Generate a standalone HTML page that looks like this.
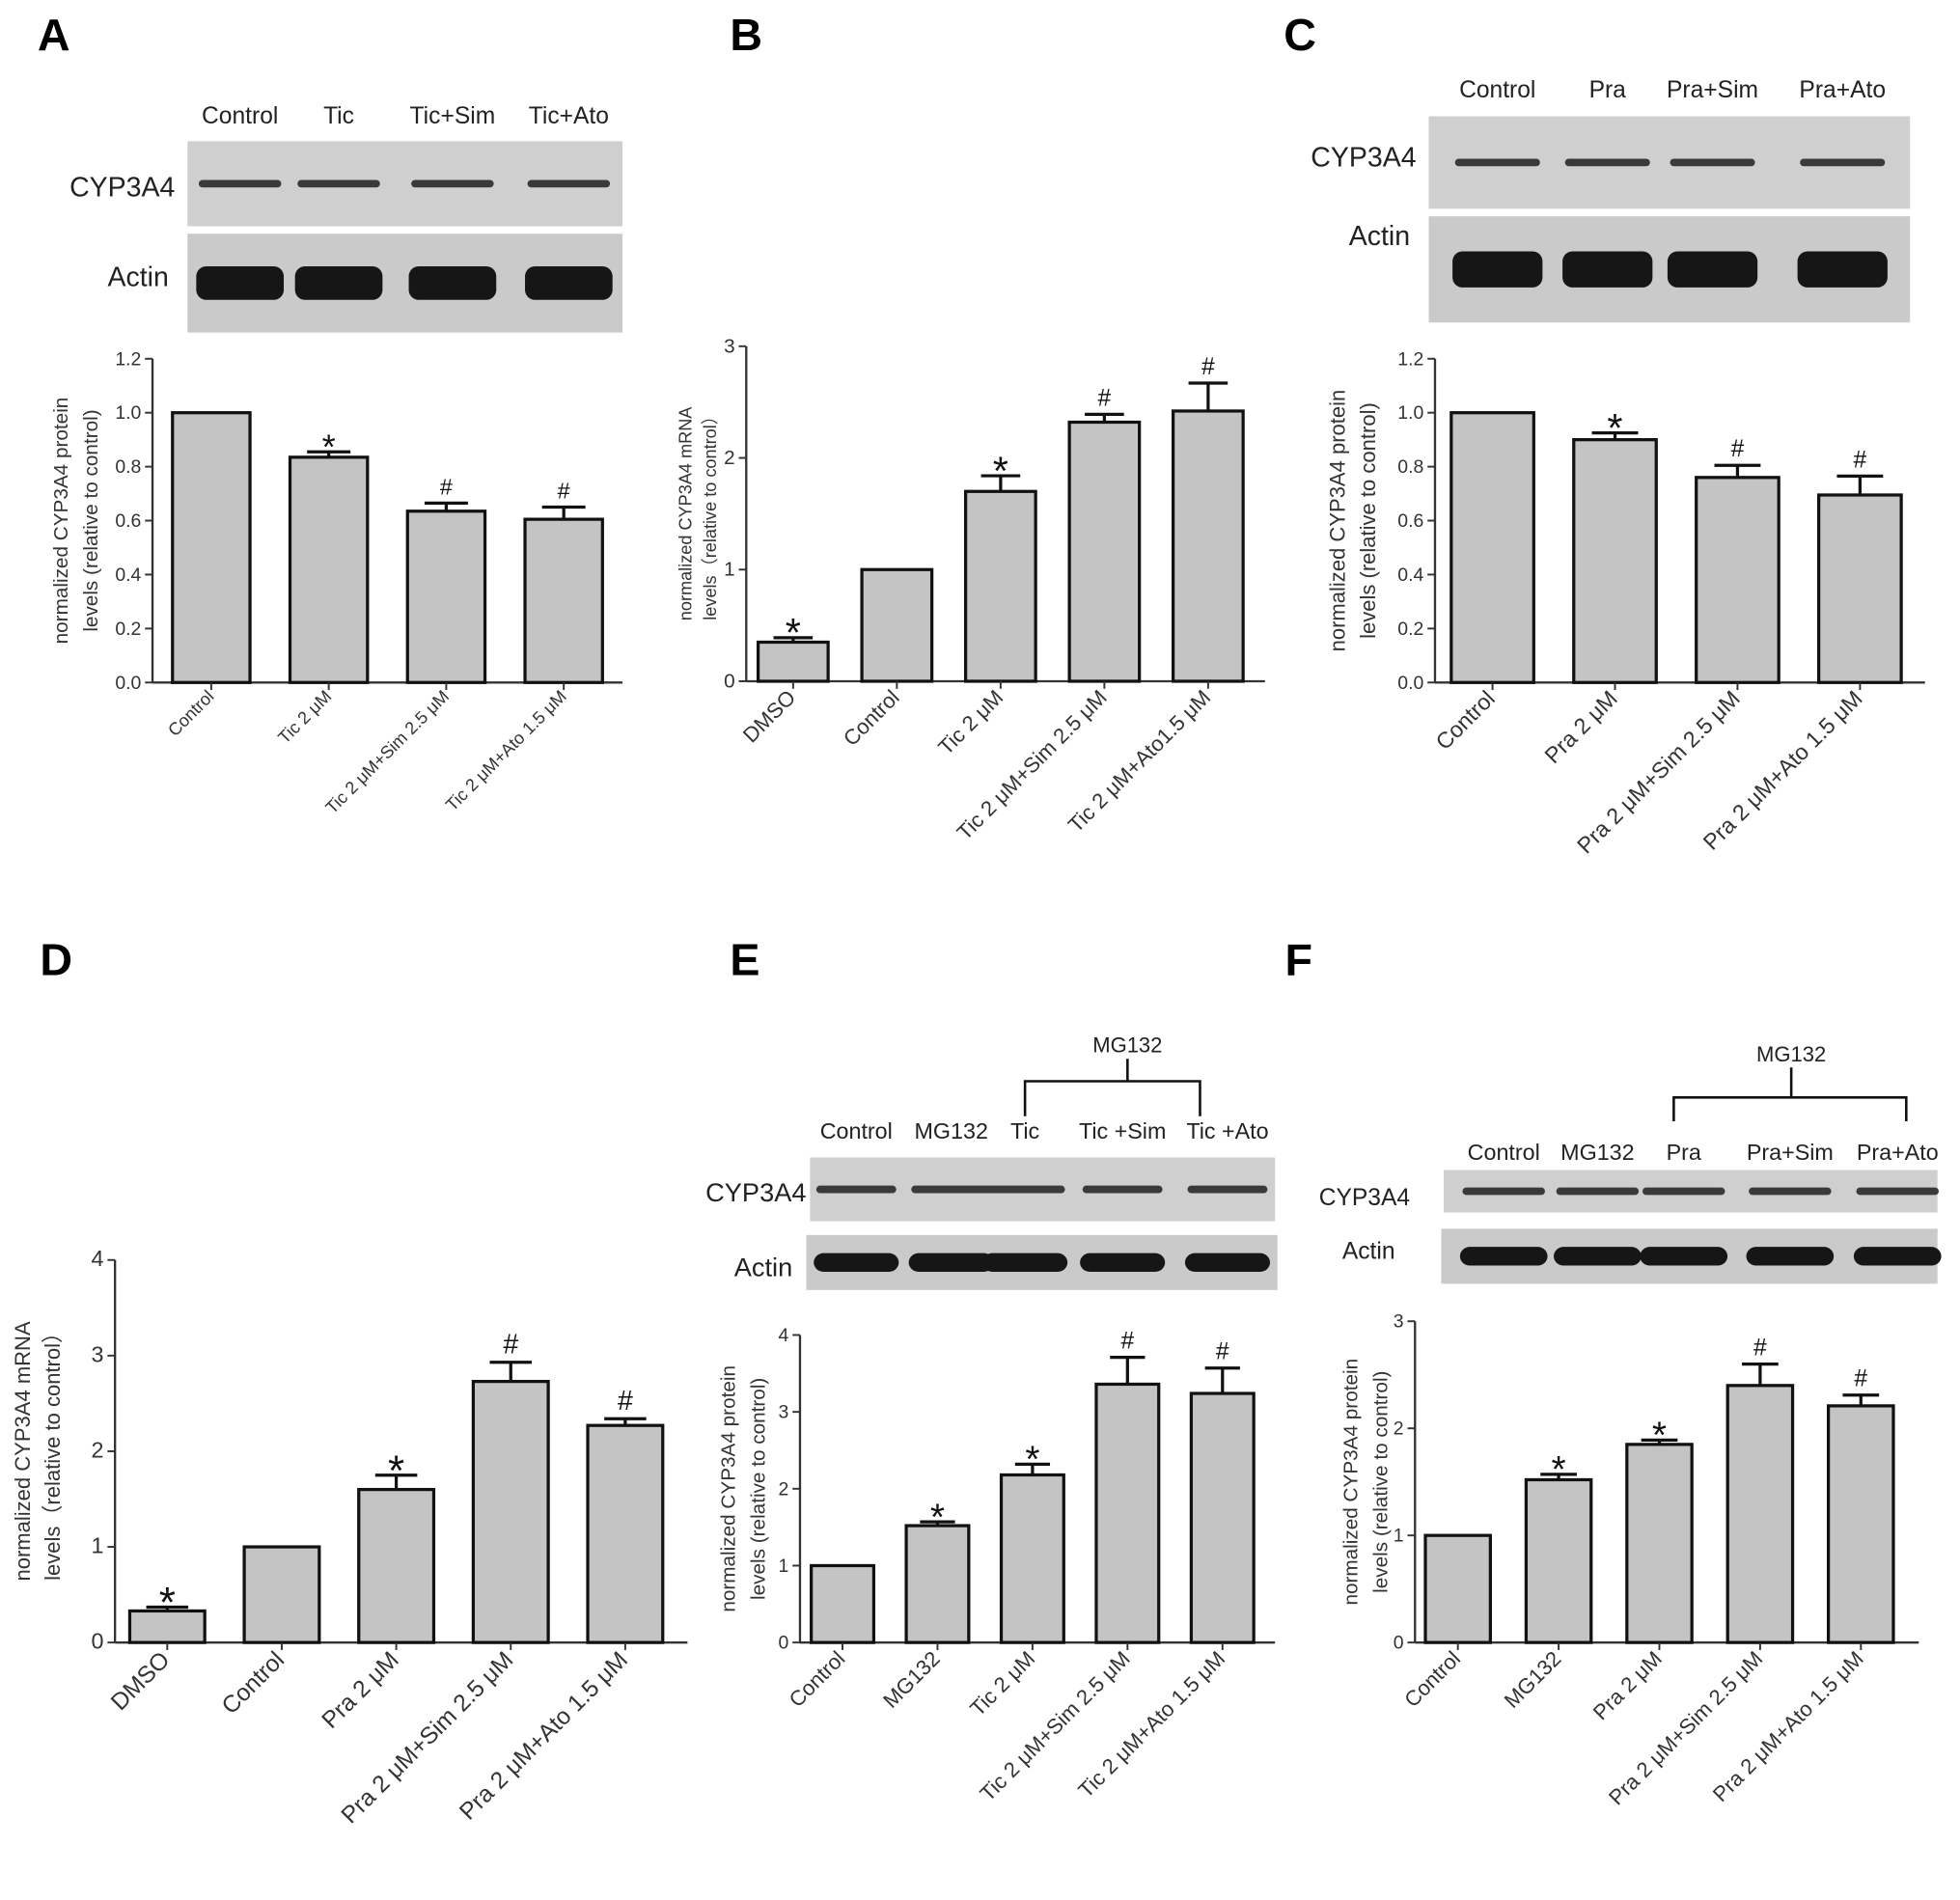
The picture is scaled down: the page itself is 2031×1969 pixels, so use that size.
<!DOCTYPE html>
<html><head><meta charset="utf-8"><style>
html,body{margin:0;padding:0;background:#fff}
svg{display:block}
text{font-family:"Liberation Sans",sans-serif}
</style></head><body>
<svg id="fig" width="2031" height="1969" viewBox="0 0 1568 1520" preserveAspectRatio="none" xmlns="http://www.w3.org/2000/svg">
<rect width="1568" height="1520" fill="#fff"/>
<text x="30" y="40" font-size="36" font-weight="bold">A</text>
<text x="584" y="40" font-size="36" font-weight="bold">B</text>
<text x="1027" y="40" font-size="36" font-weight="bold">C</text>
<text x="32" y="780" font-size="36" font-weight="bold">D</text>
<text x="584" y="780" font-size="36" font-weight="bold">E</text>
<text x="1028" y="780" font-size="36" font-weight="bold">F</text>
<g id="blots"></g>
<g id="charts"></g>
</svg>
<script>
const catsA=["Control","Tic 2 μM","Tic 2 μM+Sim 2.5 μM","Tic 2 μM+Ato 1.5 μM"];
const valsA=[1.0,0.835,0.635,0.605];
const errsA=[0,0.02,0.03,0.045];
const markA=["","*","#","#"];
const ticksA=["0.0","0.2","0.4","0.6","0.8","1.0","1.2"];

const catsB=["DMSO","Control","Tic 2 μM","Tic 2 μM+Sim 2.5 μM","Tic 2 μM+Ato1.5 μM"];
const valsB=[0.35,1.0,1.7,2.32,2.42];
const errsB=[0.04,0,0.14,0.07,0.25];
const markB=["*","","*","#","#"];
const ticksB=["0","1","2","3"];

const catsC=["Control","Pra 2 μM","Pra 2 μM+Sim 2.5 μM","Pra 2 μM+Ato 1.5 μM"];
const valsC=[1.0,0.9,0.76,0.695];
const errsC=[0,0.025,0.045,0.07];
const markC=["","*","#","#"];
const ticksC=["0.0","0.2","0.4","0.6","0.8","1.0","1.2"];

const catsD=["DMSO","Control","Pra 2 μM","Pra 2 μM+Sim 2.5 μM","Pra 2 μM+Ato 1.5 μM"];
const valsD=[0.33,1.0,1.6,2.73,2.27];
const errsD=[0.04,0,0.15,0.2,0.07];
const markD=["*","","*","#","#"];
const ticksD=["0","1","2","3","4"];

const catsE=["Control","MG132","Tic 2 μM","Tic 2 μM+Sim 2.5 μM","Tic 2 μM+Ato 1.5 μM"];
const valsE=[1.0,1.52,2.18,3.36,3.24];
const errsE=[0,0.05,0.14,0.35,0.33];
const markE=["","*","*","#","#"];
const ticksE=["0","1","2","3","4"];

const catsF=["Control","MG132","Pra 2 μM","Pra 2 μM+Sim 2.5 μM","Pra 2 μM+Ato 1.5 μM"];
const valsF=[1.0,1.52,1.85,2.4,2.21];
const errsF=[0,0.05,0.04,0.2,0.1];
const markF=["","*","*","#","#"];
const ticksF=["0","1","2","3"];

const NS="http://www.w3.org/2000/svg";
function mk(parent,tag,attrs,txt){const e=document.createElementNS(NS,tag);for(const k in attrs)e.setAttribute(k,attrs[k]);if(txt!==undefined)e.textContent=txt;parent.appendChild(e);return e;}

function chart(id,cfg,cats,vals,errs,marks,ticks){
  const root=document.getElementById('charts');
  const g=mk(root,'g',{});
  
  
  const tmax=parseFloat(ticks[ticks.length-1]);
  const y=v=>cfg.bottom-(v/tmax)*(cfg.bottom-cfg.top);
  const step=(cfg.xend-cfg.x0)/cats.length;
  const x=i=>cfg.x0+step*(i+0.5)+(cfg.shift||0);
  const ya=mk(g,'line',{x1:cfg.x0,y1:cfg.top,x2:cfg.x0,y2:cfg.bottom,stroke:'#333','stroke-width':1.8});
  
  const xa=mk(g,'line',{x1:cfg.x0,y1:cfg.bottom,x2:cfg.xend,y2:cfg.bottom,stroke:'#333','stroke-width':1.8});
  
  ticks.forEach(t=>{
    const v=parseFloat(t),yy=y(v);
    mk(g,'line',{x1:cfg.x0-6,y1:yy,x2:cfg.x0,y2:yy,stroke:'#333','stroke-width':1.5});
    const tl=mk(g,'text',{x:cfg.x0-9,y:yy+5,'font-size':cfg.tfs,'text-anchor':'end',fill:'#333'},t);
    
  });
  cats.forEach((c,i)=>{
    const cx=x(i),bw=cfg.bw;
    const b=mk(g,'rect',{x:cx-bw/2,y:y(vals[i]),width:bw,height:cfg.bottom-y(vals[i]),fill:'#c4c4c4',stroke:'#111','stroke-width':2.5});
    
    if(errs[i]>0){
      const ye=y(vals[i]+errs[i]);
      const e1=mk(g,'line',{x1:cx,y1:y(vals[i]),x2:cx,y2:ye,stroke:'#111','stroke-width':2.5});
      
      mk(g,'line',{x1:cx-bw*0.28,y1:ye,x2:cx+bw*0.28,y2:ye,stroke:'#111','stroke-width':2.5});
    }
    mk(g,'line',{x1:cx,y1:cfg.bottom,x2:cx,y2:cfg.bottom+6,stroke:'#333','stroke-width':1.5});
    if(marks[i]){
      const top=y(vals[i]+errs[i]);
      const star=marks[i]==='*';
      const yy=star?top-5+cfg.sfs*0.38:top-7;
      const m=mk(g,'text',{x:cx,y:yy,'font-size':star?cfg.sfs:cfg.hfs,'text-anchor':'middle',fill:'#111'},marks[i]);
      
    }
    const lx=cx+3,ly=cfg.bottom+cfg.lofs;
    const l=mk(g,'text',{x:lx,y:ly,'font-size':cfg.lfs,'text-anchor':'end',fill:'#333',transform:`rotate(-45 ${lx} ${ly})`},c);
    
  });
  const cy=(cfg.top+cfg.bottom)/2;
  cfg.title.forEach((t,k)=>{
    const tx=cfg.tx+k*cfg.tgap;
    const tt=mk(g,'text',{x:tx,y:cy,'font-size':cfg.yfs,'text-anchor':'middle',fill:'#333',transform:`rotate(-90 ${tx} ${cy})`},t);
    
  });
}

chart('a',{x0:122,xend:498,top:287,bottom:546,bw:62,tfs:15,lfs:14,sfs:28,hfs:18,yfs:16,lofs:12,tx:54,tgap:24,title:["normalized CYP3A4 protein","levels (relative to control)"]},catsA,valsA,errsA,markA,ticksA);
chart('b',{x0:597,xend:1012,top:277,bottom:545,bw:56,tfs:16,lfs:17,sfs:32,hfs:19,yfs:14,lofs:14,tx:553,tgap:20,shift:-4,title:["normalized CYP3A4 mRNA","levels（relative to control）"]},catsB,valsB,errsB,markB,ticksB);
chart('c',{x0:1148,xend:1540,top:287,bottom:546,bw:66,tfs:15,lfs:18,sfs:32,hfs:19,yfs:17,lofs:14,tx:1076,tgap:24,shift:-3,title:["normalized CYP3A4 protein","levels (relative to control)"]},catsC,valsC,errsC,markC,ticksC);
chart('d',{x0:92,xend:550,top:1008,bottom:1314,bw:60,tfs:18,lfs:19,sfs:34,hfs:22,yfs:17,lofs:15,tx:24,tgap:24,shift:-4,title:["normalized CYP3A4 mRNA","levels（relative to control）"]},catsD,valsD,errsD,markD,ticksD);
chart('e',{x0:640,xend:1020,top:1068,bottom:1314,bw:50,tfs:15,lfs:17,sfs:30,hfs:19,yfs:16,lofs:14,tx:588,tgap:24,shift:-4,title:["normalized CYP3A4 protein","levels (relative to control)"]},catsE,valsE,errsE,markE,ticksE);
chart('f',{x0:1132,xend:1535,top:1057,bottom:1314,bw:52,tfs:15,lfs:17,sfs:30,hfs:19,yfs:16,lofs:14,tx:1086,tgap:24,shift:-6,title:["normalized CYP3A4 protein","levels (relative to control)"]},catsF,valsF,errsF,markF,ticksF);

function blot(id,lanes,laneX,hy,hfs,c1,c2,lab1,lab2,lfs,bandW){
  const root=document.getElementById('blots');
  const g=mk(root,'g',{});
  
  
  lanes.forEach((t,i)=>{
    const h=mk(g,'text',{x:laneX[i],y:hy,'font-size':hfs,'text-anchor':'middle',fill:'#222'},t);
    
  });
  const r1=mk(g,'rect',{x:c1[0],y:c1[1],width:c1[2]-c1[0],height:c1[3]-c1[1],fill:'#cfcfcf'});
  
  const r2=mk(g,'rect',{x:c2[0],y:c2[1],width:c2[2]-c2[0],height:c2[3]-c2[1],fill:'#cacaca'});
  
  const m1=(c1[1]+c1[3])/2,m2=(c2[1]+c2[3])/2;
  laneX.forEach(lx=>{
    mk(g,'rect',{x:lx-bandW/2,y:m1-3,width:bandW,height:6,rx:3,fill:'#3a3a3a'});
    mk(g,'rect',{x:lx-bandW/2-2,y:m2-(c2[3]-c2[1])*0.17,width:bandW+4,height:(c2[3]-c2[1])*0.34,rx:8,fill:'#161616'});
  });
  const t1=mk(g,'text',{x:lab1[0],y:lab1[1],'font-size':lfs,'text-anchor':'end',fill:'#222'},'CYP3A4');
  
  const t2=mk(g,'text',{x:lab2[0],y:lab2[1],'font-size':lfs,'text-anchor':'end',fill:'#222'},'Actin');
  
}
blot('a',["Control","Tic","Tic+Sim","Tic+Ato"],[192,271,362,455],99,19,[150,113,498,181],[150,187,498,266],[140,157],[135,229],22,66);
blot('c',["Control","Pra","Pra+Sim","Pra+Ato"],[1198,1286,1370,1474],78,19,[1143,93,1528,167],[1143,173,1528,258],[1133,133],[1128,196],22,68);
blot('e',["Control","MG132","Tic","Tic +Sim","Tic +Ato"],[685,761,820,898,982],911,18,[648,926,1020,977],[645,988,1022,1032],[645,961],[634,1021],21,64);
blot('f',["Control","MG132","Pra","Pra+Sim","Pra+Ato"],[1203,1278,1347,1432,1518],928,18,[1155,936,1550,970],[1153,983,1550,1027],[1128,964],[1116,1007],19,66);

function bracket(id,lx,ly,x1,x2,hy,endY,stemTop){
  const root=document.getElementById('blots');
  const g=mk(root,'g',{fill:'none',stroke:'#111','stroke-width':2});
  
  
  mk(g,'path',{d:`M${lx} ${stemTop} V${hy} M${x1} ${endY} V${hy} H${x2} V${endY}`});
  const t=mk(root,'text',{x:lx,y:ly,'font-size':17,'text-anchor':'middle',fill:'#222'},'MG132');
  
}
bracket('e',902,842,820,960,865,893,847);
bracket('f',1433,849,1339,1525,878,897,854);
</script>
</body></html>
